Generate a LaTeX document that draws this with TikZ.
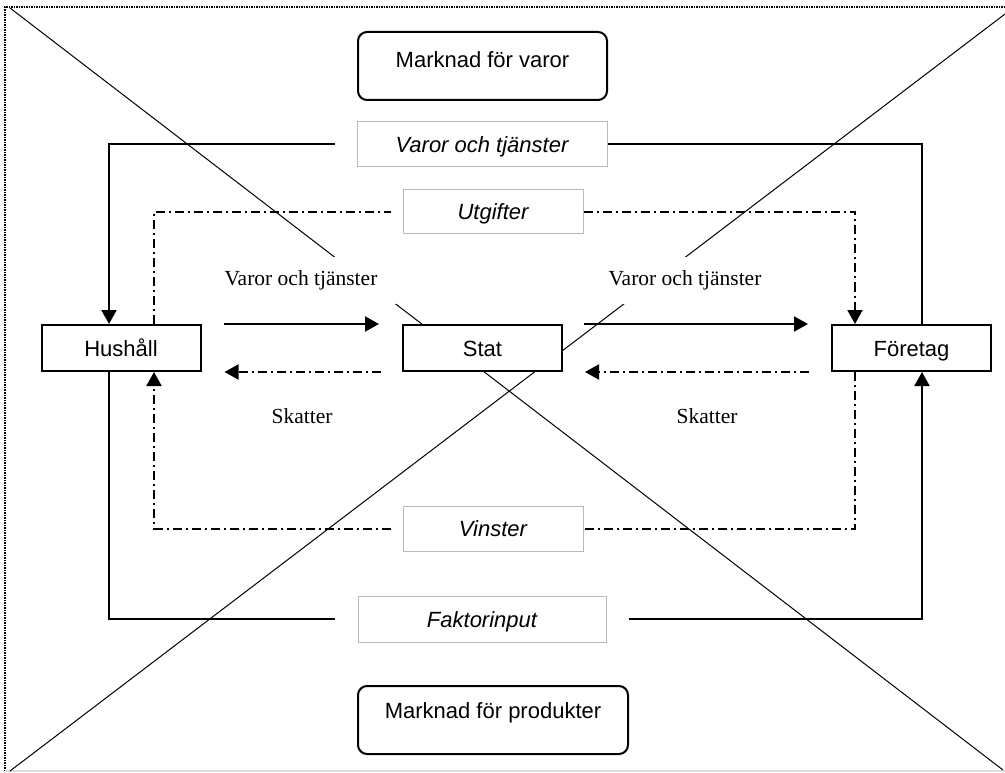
\documentclass[tikz,border=0pt]{standalone}
\usepackage{fontspec}
\setmainfont{Liberation Serif}
\setsansfont{Liberation Sans}
\usetikzlibrary{arrows.meta}

\begin{document}
\begin{tikzpicture}[x=1pt,y=-1pt,
  every node/.style={inner sep=0pt},
  blackbox/.style={draw=black, line width=2pt, fill=white,
    font=\sffamily\fontsize{22}{26}\selectfont, text height=17pt, text depth=1pt,
    minimum width=159pt, minimum height=46pt},
  marketbox/.style={draw=black, line width=2pt, rounded corners=9pt, fill=white,
    font=\sffamily\fontsize{22}{26}\selectfont, minimum height=68pt},
  flowbox/.style={draw=gray!55, line width=1pt, fill=white,
    font=\sffamily\itshape\fontsize{22}{26}\selectfont, text height=17pt, text depth=1pt,
    minimum height=45pt},
  serif/.style={font=\rmfamily\fontsize{21.5}{26}\selectfont},
  mask/.style={serif, fill=white, minimum width=190pt, minimum height=47pt},
  goods/.style={line width=2pt},
  money/.style={line width=2pt, dash pattern=on 9pt off 4pt on 2pt off 4pt},
  tip/.style={-{Triangle[length=14pt,width=15pt]}},
  cross/.style={line width=1pt},
]
\useasboundingbox (0,0) rectangle (1005,773);

% frame
\draw[line width=2pt, dash pattern=on 1.5pt off 1pt] (5,771) -- (5,7) -- (1005,7);
\draw[gray!25, line width=1.5pt] (5,771) -- (1005,771);

% crossing diagonals
\draw[cross] (10,8) -- (1003,770);
\draw[cross] (10,771) -- (1005,14);

% markets
\node[marketbox, minimum width=249pt] (mv) at (482.5,66)
  {\raisebox{6pt}[\height][\depth]{Marknad för varor}};
\node[marketbox, minimum width=270pt] (mp) at (493,720)
  {\raisebox{7pt}[\height][\depth]{Marknad för produkter}};

% flow labels
\node[flowbox, minimum width=250pt] (vt) at (482,144.5) {Varor och tjänster};
\node[flowbox, minimum width=180pt, minimum height=44pt] (ut) at (493,212) {Utgifter};
\node[flowbox, minimum width=180pt] (vi) at (493,528.5) {Vinster};
\node[flowbox, minimum width=248pt, minimum height=46pt] (fi) at (482,619) {Faktorinput};

% sectors
\node[blackbox] (hh) at (121,348) {Hushåll};
\node[blackbox] (st) at (482.5,348) {Stat};
\node[blackbox] (fo) at (911.5,348) {Företag};

% labels of the flows via the state
\node[mask] (l1) at (301,280) {Varor och tjänster};
\node[mask] (l2) at (685,280) {Varor och tjänster};
\node[serif] (s1) at (302,416) {Skatter};
\node[serif] (s2) at (707,416) {Skatter};

% goods market loop
\draw[goods] ([xshift=10.5pt]fo.north) |- (vt.east);
\draw[goods,tip] ([xshift=-22pt]vt.west) -| ([xshift=-12pt]hh.north);
% spending loop
\draw[money] ([xshift=33pt]hh.north) |- ([xshift=-12pt]ut.west);
\draw[money,tip] (ut.east) -| ([xshift=-56.5pt]fo.north);
% through the state
\draw[goods,tip] ([xshift=22pt]hh.north east) -- ([xshift=-23pt]st.north west);
\draw[goods,tip] ([xshift=21pt]st.north east) -- ([xshift=-23pt]fo.north west);
\draw[money,tip] ([xshift=-22pt]fo.south west) -- ([xshift=22pt]st.south east);
\draw[money,tip] ([xshift=-21pt]st.south west) -- ([xshift=23pt]hh.south east);
% profit loop
\draw[money] ([xshift=-56.5pt]fo.south) |- (vi.east);
\draw[money,tip] ([xshift=-12pt]vi.west) -| ([xshift=33pt]hh.south);
% factor market loop
\draw[goods] ([xshift=-12pt]hh.south) |- ([xshift=-23pt]fi.west);
\draw[goods,tip] ([xshift=22pt]fi.east) -| ([xshift=10.5pt]fo.south);
\end{tikzpicture}
\end{document}
